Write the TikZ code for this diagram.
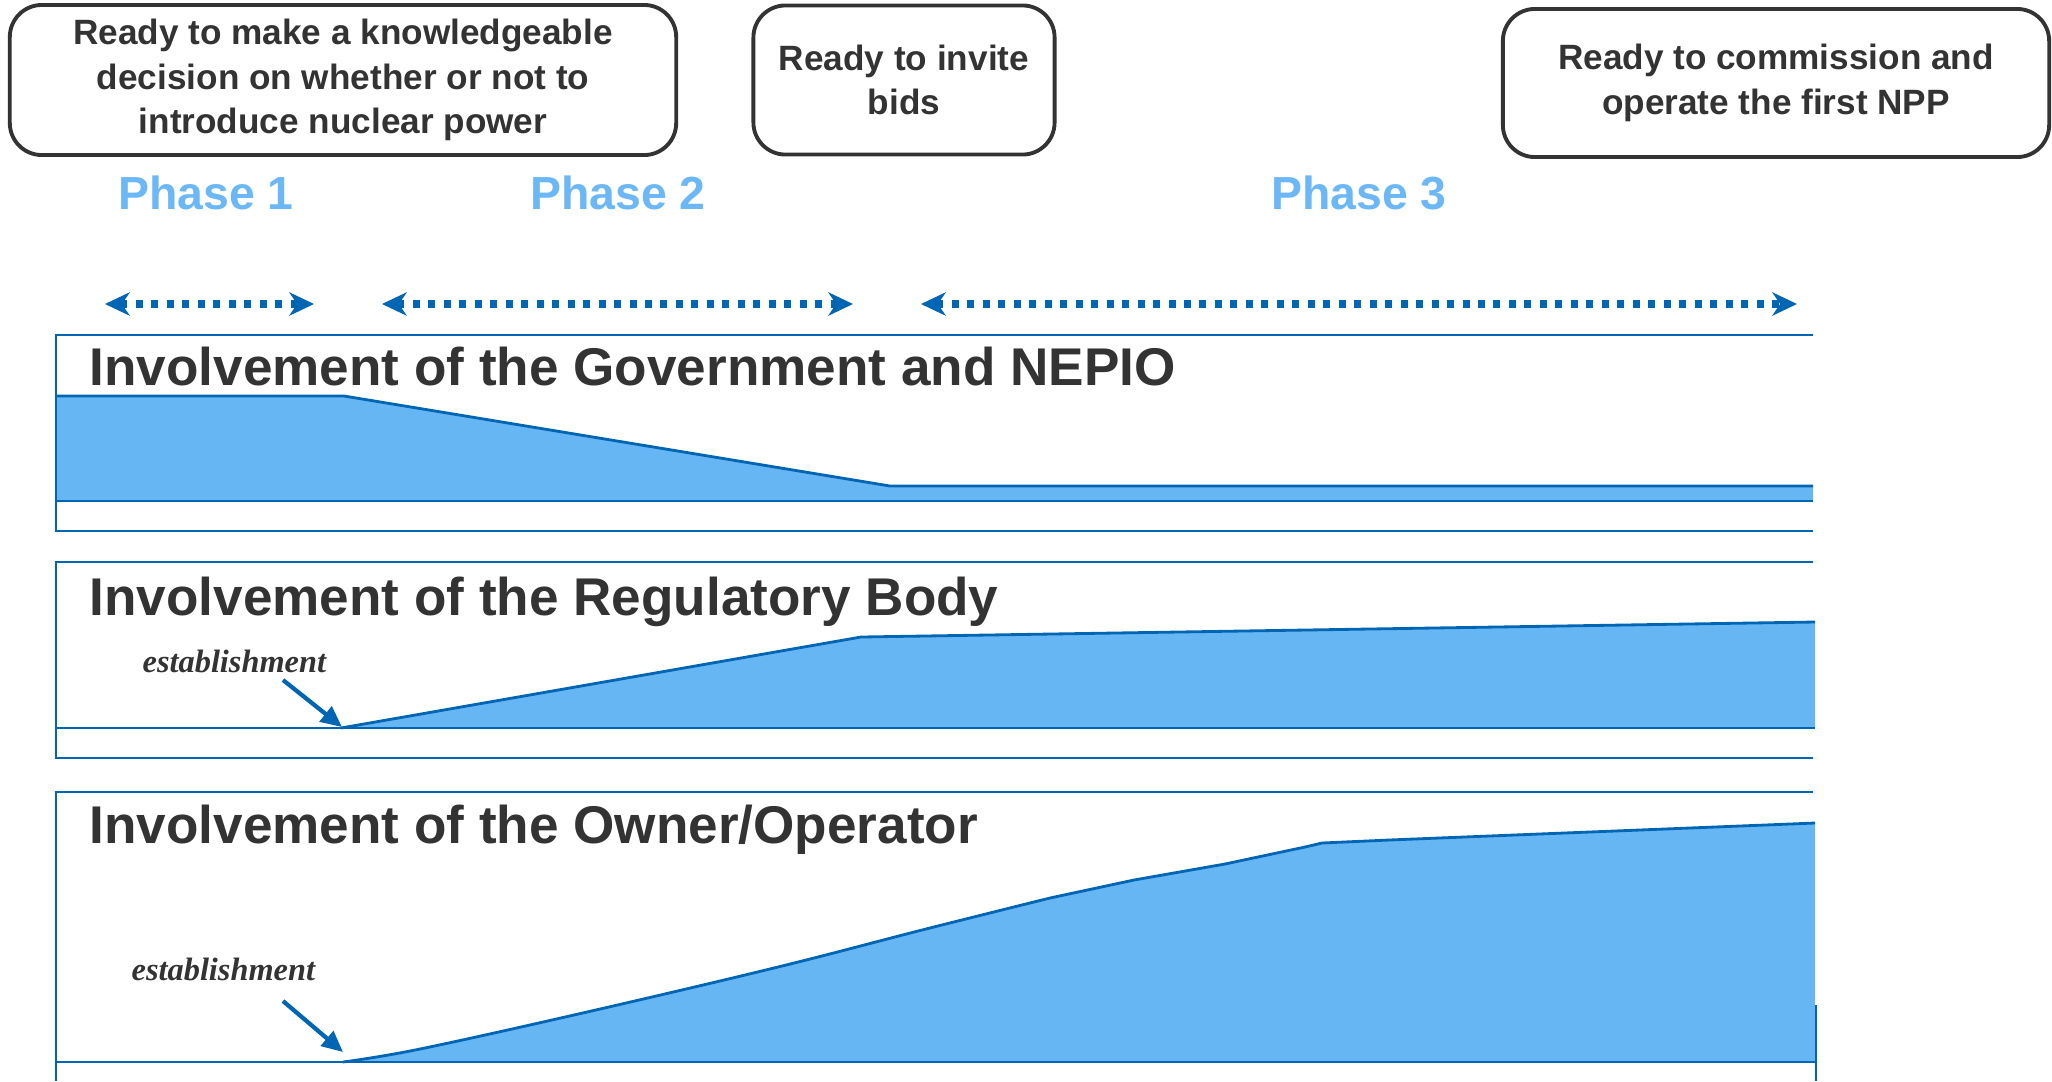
\documentclass[tikz,border=0pt]{standalone}
\usepackage{fontspec}
\usepackage{tikz}
\usetikzlibrary{arrows.meta}
\setmainfont{Liberation Sans}
\newfontfamily\estfont{Liberation Serif}

\definecolor{ink}{HTML}{333333}
\definecolor{lineblue}{HTML}{0066B3}
\definecolor{areablue}{HTML}{66B6F4}
\definecolor{phaseblue}{HTML}{6CB8F6}

\begin{document}
\begin{tikzpicture}[x=0.01cm, y=-0.01cm,
    milestone/.style={draw=ink, line width=1.1pt, rounded corners=0.32cm, align=center,
        text=ink, font=\fontsize{10}{12.7}\selectfont\bfseries, inner sep=0pt},
    phaselabel/.style={anchor=base, inner sep=0pt, text=phaseblue, font=\fontsize{13.2}{16}\selectfont\bfseries},
    phasearrow/.style={lineblue, line width=2.3pt, dash pattern=on 2pt off 2.4pt,
        {Stealth[length=7pt,width=6.6pt,inset=2.2pt]}-{Stealth[length=7pt,width=6.6pt,inset=2.2pt]}},
    paneltitle/.style={anchor=base west, inner sep=0pt, text=ink, font=\fontsize{15.1}{18}\selectfont\bfseries},
    frame/.style={lineblue, line width=0.7pt},
    area/.style={fill=areablue},
    edge/.style={lineblue, line width=0.8pt, line join=round},
    estlabel/.style={anchor=base west, inner sep=0pt, text=ink, font=\estfont\fontsize{9.2}{11}\selectfont\bfseries\itshape},
    pointer/.style={lineblue, line width=1.2pt, -{Triangle[length=6pt,width=5.4pt]}}]
\useasboundingbox (0,0) rectangle (2052,1081);

% milestones
\node[milestone, minimum width=6.66cm, minimum height=1.50cm] (ready1) at (343,80)
    {Ready to make a knowledgeable\\decision on whether or not to\\introduce nuclear power};
\node[milestone, minimum width=3.01cm, minimum height=1.49cm] (ready2) at (904,80)
    {Ready to invite\\bids};
\node[milestone, minimum width=5.46cm, minimum height=1.48cm] (ready3) at (1776,83)
    {Ready to commission and\\operate the first NPP};

% phases
\node[phaselabel] (ph1) at (206,209) {Phase 1};
\node[phaselabel] (ph2) at (618,209) {Phase 2};
\node[phaselabel] (ph3) at (1359,209) {Phase 3};

\coordinate (ph1l) at (105,304);
\coordinate (ph1r) at (314,304);
\coordinate (ph2l) at (382,304);
\coordinate (ph2r) at (853,304);
\coordinate (ph3l) at (921,304);
\coordinate (ph3r) at (1797,304);
\draw[phasearrow] (ph1l) -- (ph1r);
\draw[phasearrow] (ph2l) -- (ph2r);
\draw[phasearrow] (ph3l) -- (ph3r);

% government and NEPIO
\fill[area] (56,396) -- (344,396) -- (890,486) -- (1813,486) -- (1813,501) -- (56,501) -- cycle;
\draw[edge] (56,396) -- (344,396) -- (890,486) -- (1813,486);
\draw[edge] (56,501) -- (1813,501);
\draw[frame] (1813,335) -- (56,335) -- (56,531) -- (1813,531);
\node[paneltitle] (govt) at (89,385) {Involvement of the Government and NEPIO};

% regulatory body
\fill[area] (341,728) -- (861,637) -- (1815,622) -- (1815,728) -- cycle;
\draw[edge] (341,728) -- (861,637) -- (1815,622);
\draw[edge] (56,728) -- (1815,728);
\draw[frame] (1813,562) -- (56,562) -- (56,758) -- (1813,758);
\node[paneltitle] (regbody) at (89,615) {Involvement of the Regulatory Body};
\node[estlabel] (est1) at (142,672) {establishment};
\coordinate (rbtail) at (283,680);
\coordinate (rbstart) at (342,727);
\draw[pointer] (rbtail) -- (rbstart);

% owner/operator
\fill[area] plot[smooth, tension=0.6] coordinates {(343,1062) (420,1049) (587,1012) (778,967) (922,930) (1050,898)}
    -- (1134,880) -- (1225,864) -- (1305,847) -- (1322,843) -- (1389,840)
    -- (1815,823) -- (1815,1062) -- cycle;
\draw[edge] plot[smooth, tension=0.6] coordinates {(343,1062) (420,1049) (587,1012) (778,967) (922,930) (1050,898)}
    -- (1134,880) -- (1225,864) -- (1305,847) -- (1322,843) -- (1389,840) -- (1815,823);
\draw[edge] (56,1062) -- (1816,1062);
\draw[frame] (1813,792) -- (56,792) -- (56,1081);
\draw[frame] (1816,1005) -- (1816,1081);
\node[paneltitle] (owner) at (89,843) {Involvement of the Owner/Operator};
\node[estlabel] (est2) at (131,980) {establishment};
\coordinate (ootail) at (283,1001);
\coordinate (oostart) at (343,1052);
\draw[pointer] (ootail) -- (oostart);
\end{tikzpicture}
\end{document}
